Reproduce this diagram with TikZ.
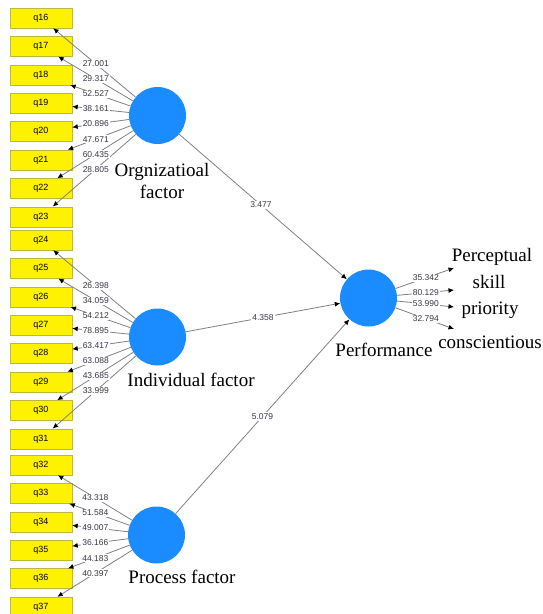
\documentclass[tikz,border=0pt]{standalone}
\usepackage{fontspec}
\setmainfont{Liberation Serif}
\newfontfamily\numfont{Liberation Sans}
\usepackage{xcolor}
\usepackage{tikz}
\usetikzlibrary{arrows.meta}
\usetikzlibrary{positioning}
\usetikzlibrary{calc}
\definecolor{lvblue}{RGB}{26,140,255}
\definecolor{boxline}{RGB}{185,185,60}
\definecolor{numgray}{RGB}{55,55,70}

\begin{document}
\begin{tikzpicture}[
  x=1pt, y=-1pt,
  qbox/.style={draw=boxline, fill=yellow, minimum width=62pt, minimum height=20pt,
    inner sep=0pt, font=\numfont\fontsize{9}{10}\selectfont},
  lv/.style={circle, fill=lvblue, minimum size=57pt, inner sep=0pt},
  lvname/.style={fill=white, inner sep=1pt, align=center,
    font=\fontsize{19}{22}\selectfont},
  wt/.style={fill=white, inner sep=1pt, text=numgray,
    font=\numfont\fontsize{8.5}{9}\selectfont},
  load/.style={draw=gray, line width=0.8pt, -{Latex[length=5.5pt,width=5pt,black]}},
  node distance=8pt
]
\useasboundingbox (0,0) rectangle (542,614);

% indicator boxes
\node[qbox] (q16) at (41,18) {q16};
\node[qbox, below=of q16] (q17) {q17};
\node[qbox, below=of q17] (q18) {q18};
\node[qbox, below=of q18] (q19) {q19};
\node[qbox, below=of q19] (q20) {q20};
\node[qbox, below=of q20] (q21) {q21};
\node[qbox, below=of q21] (q22) {q22};
\node[qbox, below=of q22] (q23) {q23};
\node[qbox] (q24) at (41,240) {q24};
\node[qbox, below=of q24] (q25) {q25};
\node[qbox, below=of q25] (q26) {q26};
\node[qbox, below=of q26] (q27) {q27};
\node[qbox, below=of q27] (q28) {q28};
\node[qbox, below=of q28] (q29) {q29};
\node[qbox, below=of q29] (q30) {q30};
\node[qbox, below=of q30] (q31) {q31};
\node[qbox] (q32) at (41,465) {q32};
\node[qbox, below=of q32] (q33) {q33};
\node[qbox, below=of q33] (q34) {q34};
\node[qbox, below=of q34] (q35) {q35};
\node[qbox, below=of q35] (q36) {q36};
\node[qbox, below=of q36] (q37) {q37};

% latent variables
\node[lv] (org) at (157.5,115.5) {};
\node[lv] (ind) at (157.5,337) {};
\node[lv] (proc) at (156.5,535) {};
\node[lv] (perf) at (368.5,298) {};

% performance indicators
\coordinate (p1) at (454,268);
\coordinate (p2) at (454,290);
\coordinate (p3) at (454,307);
\coordinate (p4) at (454,329);

% paths
\draw[load] (org) -- (perf);
\draw[load] (ind) -- (perf);
\draw[load] (proc) -- (perf);
\node[wt] at ($(org)!0.49!(perf)$) {3.477};
\node[wt] at ($(ind)!0.5!(perf)$) {4.358};
\node[wt] at ($(proc)!0.5!(perf)$) {5.079};

% loadings
\foreach \q/\v in {16/27.001,17/29.317,18/52.527,19/38.161,20/20.896,21/47.671,22/60.435,23/28.805}
  \draw[load] (org) -- (q\q);
\foreach \q/\v in {16/27.001,17/29.317,18/52.527,19/38.161,20/20.896,21/47.671,22/60.435,23/28.805}
  \node[wt] at ($(org)!0.53!(q\q)$) {\v};
\foreach \q/\v in {24/26.398,25/34.059,26/54.212,27/78.895,28/63.417,29/63.088,30/43.685,31/33.999}
  \draw[load] (ind) -- (q\q);
\foreach \q/\v in {24/26.398,25/34.059,26/54.212,27/78.895,28/63.417,29/63.088,30/43.685,31/33.999}
  \node[wt] at ($(ind)!0.53!(q\q)$) {\v};
\foreach \q/\v in {32/43.318,33/51.584,34/49.007,35/36.166,36/44.183,37/40.397}
  \draw[load] (proc) -- (q\q);
\foreach \q/\v in {32/43.318,33/51.584,34/49.007,35/36.166,36/44.183,37/40.397}
  \node[wt] at ($(proc)!0.53!(q\q)$) {\v};
\foreach \p/\v in {1/35.342,2/80.129,3/53.990,4/32.794}
  \draw[load] (perf) -- (p\p);
\foreach \p/\v in {1/35.342,2/80.129,3/53.990,4/32.794}
  \node[wt] at ($(perf)!0.67!(p\p)$) {\v};

% names
\node[lvname] (orgname) at (162,181) {Orgnizatioal\\factor};
\node[lvname] (indname) at (191,380) {Individual factor};
\node[lvname] (procname) at (182,577) {Process factor};
\node[lvname] (perfname) at (384,350) {Performance};
\node[lvname, fill=none] (t1) at (492,257) {Perceptual};
\node[lvname, fill=none] (t2) at (489,282) {skill};
\node[lvname, fill=none] (t3) at (490,310) {priority};
\node[lvname, fill=none] (t4) at (490,342) {conscientious};
\end{tikzpicture}
\end{document}
